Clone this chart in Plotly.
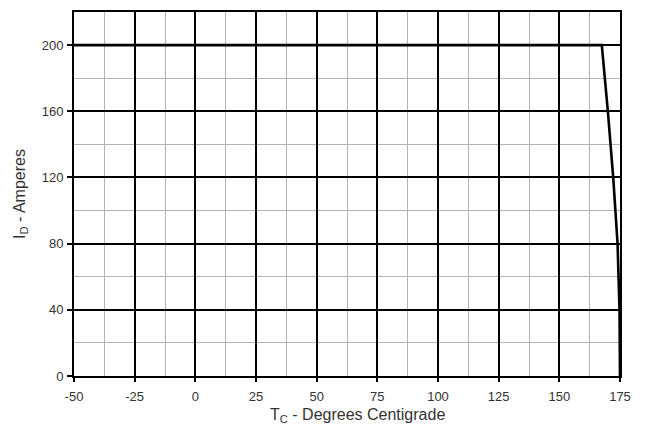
import plotly.graph_objects as go

# Maximum continuous drain current vs. case temperature
temp_c = [-50, 167.5, 170.0, 172.2, 174.0, 174.8, 175.0]
drain_a = [200, 200, 160, 120, 80, 40, 0]

x_ticks = [-50, -25, 0, 25, 50, 75, 100, 125, 150, 175]
x_tick_text = ["-50", "-25", "0", "25", "50", "75", "100", "125", "150", "175"]
y_ticks = [0, 40, 80, 120, 160, 200]
y_tick_text = ["0", "40", "80", "120", "160", "200"]

fig = go.Figure()
fig.add_trace(go.Scatter(
    x=temp_c, y=drain_a, mode="lines",
    line=dict(color="black", width=2.6),
    showlegend=False, hoverinfo="skip",
))

font = dict(family="Liberation Sans, Arial, sans-serif", color="#333333")

fig.update_xaxes(
    range=[-50, 175], tickvals=x_ticks, ticktext=x_tick_text,
    showgrid=True, gridcolor="black", gridwidth=2,
    minor=dict(dtick=12.5, tick0=-50, showgrid=True, gridcolor="#b4b4b4", gridwidth=1.2),
    showline=True, linecolor="black", linewidth=2, mirror=True,
    ticks="outside", ticklen=4, tickwidth=1.5, tickcolor="black",
    ticklabelstandoff=3,
    tickfont=dict(size=13, **font), zeroline=False,
)
fig.update_yaxes(
    range=[0, 220], tickvals=y_ticks, ticktext=y_tick_text,
    showgrid=True, gridcolor="black", gridwidth=2,
    minor=dict(dtick=20, tick0=0, showgrid=True, gridcolor="#b4b4b4", gridwidth=1.2),
    showline=True, linecolor="black", linewidth=2, mirror=True,
    ticks="outside", ticklen=5, tickwidth=1.5, tickcolor="black",
    ticklabelstandoff=1,
    tickfont=dict(size=13, **font), zeroline=False,
    title=dict(text="I<sub>D</sub> - Amperes", font=dict(size=16, **font), standoff=12),
)

# x-axis title, set slightly right of the plot centre
fig.add_annotation(
    text="T<sub>C</sub> - Degrees Centigrade",
    xref="paper", yref="paper", x=0.5, y=0,
    xanchor="center", yanchor="middle", xshift=10, yshift=-39,
    showarrow=False, font=dict(size=16, **font),
)

fig.update_layout(
    width=650, height=436,
    margin=dict(l=74, r=30, t=10, b=60),
    paper_bgcolor="white", plot_bgcolor="white",
)

fig.write_html("out.html")
